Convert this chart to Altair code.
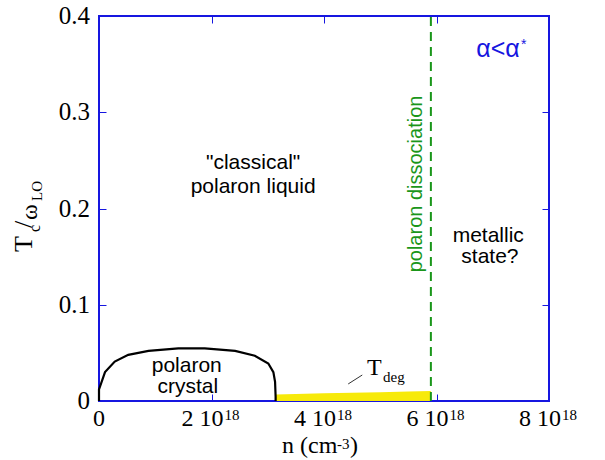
import altair as alt
import pandas as pd

# ---------------- data (n in units of 1e18 cm^-3, T in units of omega_LO) ----------------
crystal_n = [0.0, 0.0, 0.107, 0.28, 0.52, 0.88, 1.41, 1.88, 2.42, 2.77, 3.01, 3.10, 3.13, 3.14, 3.14]
crystal_T = [0.0, 0.012, 0.030, 0.041, 0.048, 0.052, 0.0547, 0.0547, 0.052, 0.047, 0.039, 0.030, 0.020, 0.0045, 0.0]

deg_n = [3.14, 3.5, 4.0, 4.5, 5.0, 5.5, 5.9]
deg_T = [0.0068, 0.0073, 0.0080, 0.0086, 0.0092, 0.0099, 0.0104]

dissociation_n = [5.9]

x_ticks = [0, 2, 4, 6, 8]
x_tick_main = ["0", "2 10", "4 10", "6 10", "8 10"]
x_tick_sup = ["", "18", "18", "18", "18"]
y_ticks = [0, 0.1, 0.2, 0.3, 0.4]
y_tick_labels = ["0", "0.1", "0.2", "0.3", "0.4"]

# ---------------- styles ----------------
BLUE = "#1616e0"
GREEN = "#1a961a"
YELLOW = "#f7ea0a"
SERIF = "Liberation Serif"
SANS = "Liberation Sans"

xs = alt.Scale(domain=[0, 8], nice=False, zero=False)
ys = alt.Scale(domain=[0, 0.4], nice=False, zero=False)


def X(f, axis=None):
    return alt.X(f"{f}:Q", scale=xs, axis=axis)


def Y(f, axis=None):
    return alt.Y(f"{f}:Q", scale=ys, axis=axis)


tick_common = dict(labels=False, domain=False, grid=False, ticks=True, tickSize=7,
                   tickWidth=1, tickColor=BLUE, offset=-7, title=None)
ax_bottom = alt.Axis(orient="bottom", values=x_ticks, **tick_common)
ax_top = alt.Axis(orient="top", values=x_ticks, **tick_common)
ax_left = alt.Axis(orient="left", values=y_ticks, **tick_common)
ax_right = alt.Axis(orient="right", values=y_ticks, **tick_common)

crystal = pd.DataFrame({"n": crystal_n, "T": crystal_T, "i": list(range(len(crystal_n)))})
deg = pd.DataFrame({"n": deg_n, "T": deg_T})
diss = pd.DataFrame({"n": dissociation_n, "T0": [0.0], "T1": [0.4]})

deg_area = alt.Chart(deg).mark_area(color=YELLOW).encode(x=X("n", ax_bottom), y=Y("T", ax_left))
crystal_line = alt.Chart(crystal).mark_line(color="black", strokeWidth=2.2).encode(
    x=X("n"), y=Y("T"), order="i:Q")
diss_rule = alt.Chart(diss).mark_rule(color=GREEN, strokeWidth=2, strokeDash=[9, 6]).encode(
    x=X("n", ax_top), y=Y("T0", ax_right), y2="T1:Q")

leader = alt.Chart(pd.DataFrame({"n": [4.43], "n2": [4.68], "T": [0.0177], "T2": [0.027]})).mark_rule(
    color="#333333", strokeWidth=1).encode(x=X("n"), x2="n2:Q", y=Y("T"), y2="T2:Q")


def note(text, n, T, font=SANS, size=21, color="black", align="center", angle=0, baseline="alphabetic"):
    df = pd.DataFrame({"n": [n], "T": [T], "t": [text]})
    kw = dict(font=font, fontSize=size, color=color, align=align, baseline=baseline)
    if angle:
        kw["angle"] = angle
    return alt.Chart(df).mark_text(**kw).encode(x=X("n"), y=Y("T"), text="t:N")


def pnote(text, px, py, font=SERIF, size=24, align="left", angle=0):
    df = pd.DataFrame({"t": [text]})
    kw = dict(font=font, fontSize=size, color="black", align=align, baseline="alphabetic")
    if angle:
        kw["angle"] = angle
    return alt.Chart(df).mark_text(**kw).encode(x=alt.value(px), y=alt.value(py), text="t:N")


notes = [
    note('"classical"', 2.74, 0.241),
    note("polaron liquid", 2.74, 0.216),
    note("polaron", 1.56, 0.0304),
    note("crystal", 1.58, 0.008),
    note("metallic", 6.92, 0.165),
    note("state?", 6.95, 0.143),
    note("polaron dissociation", 5.74, 0.2255, size=20, color=GREEN, angle=270),
    note("α<α", 7.48, 0.357, size=25, color=BLUE, align="right"),
    note("*", 7.50, 0.366, size=14, color=BLUE, align="left"),
    note("T", 4.764, 0.027, font=SERIF, size=24, align="left"),
    note("deg", 5.05, 0.0197, font=SERIF, size=15, align="left"),
]

# axis titles (pixel offsets from the plot origin)
titles = [
    pnote("n (cm", 183, 437),
    pnote("-3", 238, 433, size=15),
    pnote(")", 251, 437),
    pnote("T", -67, 236, size=26, angle=270),
    pnote("c", -59, 216, size=16, angle=270),
    pnote("/", -67, 212, size=26, angle=270),
    pnote("ω", -62, 204, size=24, angle=270),
    pnote("LO", -57, 185, size=15, angle=270),
]

# tick labels
xt = pd.DataFrame({"n": x_ticks, "zero": [0.0] * len(x_ticks), "main": x_tick_main, "sup": x_tick_sup})
yt = pd.DataFrame({"T": y_ticks, "zero": [0.0] * len(y_ticks), "lab": y_tick_labels})

xlab_zero = alt.Chart(xt).transform_filter("datum.n == 0").mark_text(
    font=SERIF, fontSize=24, align="center", baseline="alphabetic", dy=25, color="black").encode(
    x=X("n"), y=Y("zero"), text="main:N")
xlab_main = alt.Chart(xt).transform_filter("datum.n > 0").mark_text(
    font=SERIF, fontSize=24, align="right", baseline="alphabetic", dx=12, dy=25, color="black").encode(
    x=X("n"), y=Y("zero"), text="main:N")
xlab_sup = alt.Chart(xt).transform_filter("datum.n > 0").mark_text(
    font=SERIF, fontSize=15, align="left", baseline="alphabetic", dx=13, dy=19, color="black").encode(
    x=X("n"), y=Y("zero"), text="sup:N")
ylab = alt.Chart(yt).mark_text(
    font=SERIF, fontSize=25, align="right", baseline="middle", dx=-9, color="black").encode(
    x=X("zero"), y=Y("T"), text="lab:N")

chart = alt.layer(
    deg_area, crystal_line, diss_rule, leader,
    *notes, *titles, xlab_zero, xlab_main, xlab_sup, ylab
).resolve_axis(x="independent", y="independent").properties(
    width=450, height=385,
    autosize=alt.AutoSizeParams(type="none"),
    padding={"left": 99, "top": 16, "right": 56, "bottom": 59},
    background="white",
).configure_view(stroke=BLUE, strokeWidth=2)

chart.save("out.html", embed_options={"renderer": "svg", "actions": False})
